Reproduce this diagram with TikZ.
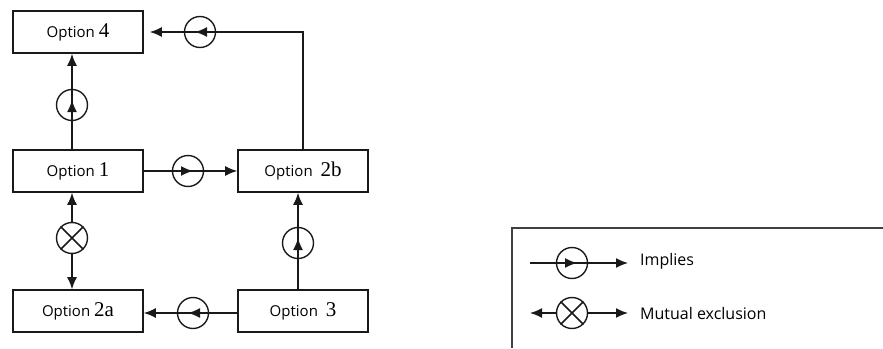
\documentclass[tikz,border=0pt]{standalone}
\usepackage{fontspec}
\newfontfamily\optsans{Open Sans}
\newfontfamily\optserif{Liberation Serif}
\usetikzlibrary{arrows.meta}
\newcommand\optnum[1]{\optserif\fontsize{21}{23}\selectfont #1}
\begin{document}
\begin{tikzpicture}[x=1pt,y=-1pt,
  optbox/.style={draw=black!90, line width=1.6pt, minimum width=130pt, minimum height=42pt, inner sep=0pt, font=\optsans\fontsize{15}{17}\selectfont},
  ring/.style={draw=black!90, line width=1.4pt, circle, minimum size=31pt, inner sep=0pt},
  conn/.style={draw=black!90, line width=1.5pt},
  tip/.style={-{Latex[length=12pt,width=10pt]}},
  legtext/.style={anchor=west, font=\optsans\fontsize{16}{18}\selectfont, inner sep=0pt}
]
\useasboundingbox (0,0) rectangle (883,348);
% boxes
\node[optbox] (o4) at (78,32) {Option \optnum{4}};
\node[optbox] (o1) at (78,171) {Option \optnum{1}};
\node[optbox] (o2b) at (303,171) {Option\ \ \optnum{2b}};
\node[optbox] (o2a) at (78,311) {Option\ \optnum{2a}};
\node[optbox] (o3) at (303,311) {Option\ \ \optnum{3}};
% rings
\node[ring] (c14) at (72,105) {};
\node[ring] (c12b) at (188,171) {};
\node[ring] (cx) at (72,238) {};
\node[ring] (c32b) at (298,243) {};
\node[ring] (c32a) at (193,313) {};
\node[ring] (ctop) at (200,32) {};
\coordinate (corner) at (303,32);
% option1 -> option4
\draw[conn,tip,shorten >=-5pt] (o1.north -| c14) -- (c14.center);
\draw[conn,tip] (c14.center) -- (c14 |- o4.south);
% option1 -> option2b
\draw[conn,tip,shorten >=-5pt] (o1.east) -- (c12b.center);
\draw[conn,tip] (c12b.center) -- (o2b.west);
% mutual exclusion option1 / option2a
\draw[conn,tip] (cx.north) -- (cx |- o1.south);
\draw[conn,tip] (cx.south) -- (cx |- o2a.north);
\draw[conn] (cx.north west) -- (cx.south east) (cx.north east) -- (cx.south west);
% option3 -> option2b
\draw[conn,tip,shorten >=-5pt] (c32b |- o3.north) -- (c32b.center);
\draw[conn,tip] (c32b.center) -- (c32b |- o2b.south);
% option3 -> option2a
\draw[conn,tip,shorten >=-5pt] (o3.west |- c32a) -- (c32a.center);
\draw[conn,tip] (c32a.center) -- (o2a.east |- c32a);
% option2b -> option4
\draw[conn,tip,shorten >=-5pt] (o2b.north) -- (corner) -- (ctop.center);
\draw[conn,tip,shorten >=6pt] (ctop.center) -- (o4.east);
% legend
\draw[draw=black!75, line width=1.8pt] (883,228) -- (512,228) -- (512,348);
\node[ring] (li) at (572,263) {};
\node[ring] (lx) at (572,313) {};
\coordinate (lia) at (530,263);
\coordinate (lib) at (628,263);
\coordinate (lxa) at (530,313);
\coordinate (lxb) at (628,313);
\draw[conn,tip,shorten >=-5pt] (lia) -- (li.center);
\draw[conn,tip] (li.center) -- (lib);
\draw[conn,tip] (lx.west) -- (lxa);
\draw[conn,tip] (lx.east) -- (lxb);
\draw[conn] (lx.north west) -- (lx.south east) (lx.north east) -- (lx.south west);
\node[legtext] (lt1) at (640,261) {Implies};
\node[legtext] (lt2) at (640,313) {Mutual exclusion};
\end{tikzpicture}
\end{document}
